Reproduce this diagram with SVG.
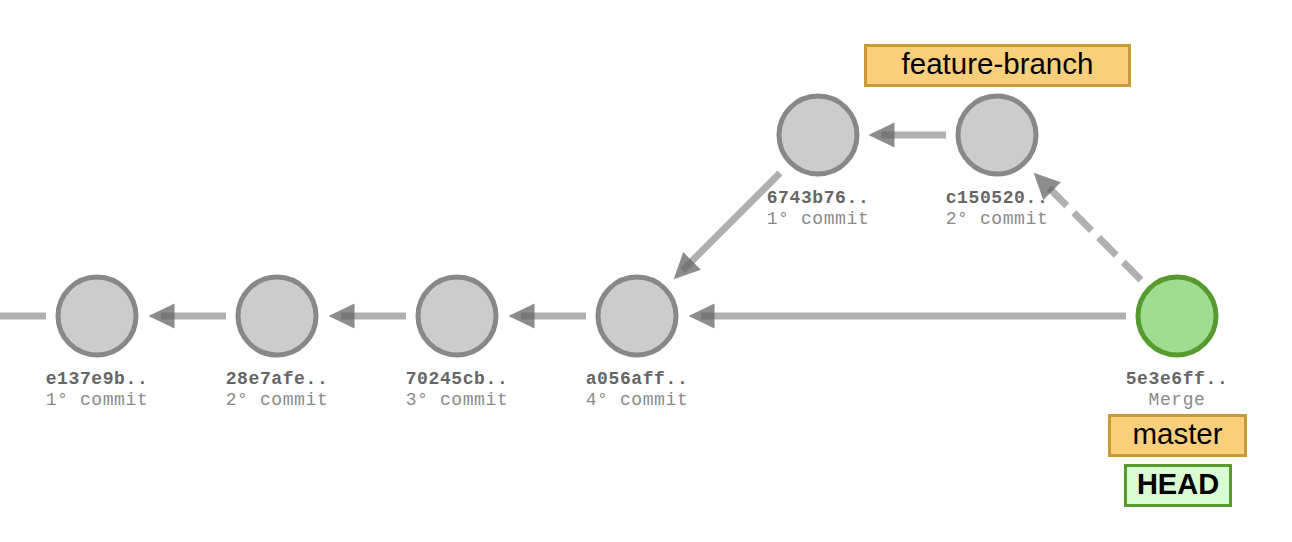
<svg xmlns="http://www.w3.org/2000/svg" width="1292" height="542" viewBox="0 0 1292 542">
<style>
.edge{stroke:#b0b0b0;stroke-width:7;fill:none}
.dash{stroke-dasharray:25 10}
.commit{fill:#cccccc;stroke:#888888;stroke-width:5}
.merge{fill:#a0dc92;stroke:#579a2e;stroke-width:5}
.hash{font-family:"Liberation Mono","DejaVu Sans Mono",monospace;font-weight:bold;font-size:18px;letter-spacing:0.6px;fill:#666666;text-anchor:middle}
.msg{font-family:"Liberation Mono","DejaVu Sans Mono",monospace;font-size:18px;letter-spacing:0.6px;fill:#8a8a8a;text-anchor:middle}
.branch{fill:#f9cf7b;stroke:#c89a38;stroke-width:3}
.head{fill:#d9fbd3;stroke:#579a2e;stroke-width:3}
.lbl{font-family:"Liberation Sans",Arial,sans-serif;font-size:29.5px;fill:#000;text-anchor:middle}
.bold{font-weight:bold;font-size:29px}
</style>
<defs>
<marker id="arr" markerUnits="userSpaceOnUse" markerWidth="26" markerHeight="26" viewBox="0 0 25 24" refX="13" refY="12" orient="auto">
<path d="M0,0 L25,12 L0,24 Z" fill="#666666" fill-opacity="0.75"/>
</marker>
</defs>
<g id="connectors">
<line class="edge" x1="0" y1="316" x2="46" y2="316"/>
<line class="edge" x1="226" y1="316" x2="161" y2="316" marker-end="url(#arr)"/>
<line class="edge" x1="406" y1="316" x2="341" y2="316" marker-end="url(#arr)"/>
<line class="edge" x1="586" y1="316" x2="521" y2="316" marker-end="url(#arr)"/>
<line class="edge" x1="1126" y1="316" x2="701" y2="316" marker-end="url(#arr)"/>
<line class="edge" x1="780" y1="173" x2="682.5" y2="270.5" marker-end="url(#arr)"/>
<line class="edge" x1="946" y1="135" x2="881" y2="135" marker-end="url(#arr)"/>
<line class="edge dash" x1="1141" y1="280" x2="1042.5" y2="181.5" marker-end="url(#arr)"/>
</g>
<g id="e137e9b">
<circle class="commit" cx="97" cy="316" r="39"/>
<text class="hash" x="97" y="384">e137e9b..</text>
<text class="msg" x="97" y="404.5">1° commit</text>
</g>
<g id="28e7afe">
<circle class="commit" cx="277" cy="316" r="39"/>
<text class="hash" x="277" y="384">28e7afe..</text>
<text class="msg" x="277" y="404.5">2° commit</text>
</g>
<g id="70245cb">
<circle class="commit" cx="457" cy="316" r="39"/>
<text class="hash" x="457" y="384">70245cb..</text>
<text class="msg" x="457" y="404.5">3° commit</text>
</g>
<g id="a056aff">
<circle class="commit" cx="637" cy="316" r="39"/>
<text class="hash" x="637" y="384">a056aff..</text>
<text class="msg" x="637" y="404.5">4° commit</text>
</g>
<g id="6743b76">
<circle class="commit" cx="818" cy="135" r="39"/>
<text class="hash" x="818" y="203">6743b76..</text>
<text class="msg" x="818" y="223.5">1° commit</text>
</g>
<g id="c150520">
<circle class="commit" cx="997" cy="135" r="39"/>
<text class="hash" x="997" y="203">c150520..</text>
<text class="msg" x="997" y="223.5">2° commit</text>
</g>
<g id="5e3e6ff">
<circle class="merge" cx="1177" cy="316" r="39"/>
<text class="hash" x="1177" y="384">5e3e6ff..</text>
<text class="msg" x="1177" y="404.5">Merge</text>
</g>
<g id="feature-branch">
<rect class="branch" x="865.5" y="45.5" width="264" height="40"/>
<text class="lbl" x="997.5" y="74">feature-branch</text>
</g>
<g id="master">
<rect class="branch" x="1109.5" y="415.5" width="136" height="40"/>
<text class="lbl" x="1177.5" y="444">master</text>
</g>
<g id="HEAD">
<rect class="head" x="1125.5" y="465.5" width="105" height="40"/>
<text class="lbl bold" x="1178" y="494">HEAD</text>
</g>
</svg>
